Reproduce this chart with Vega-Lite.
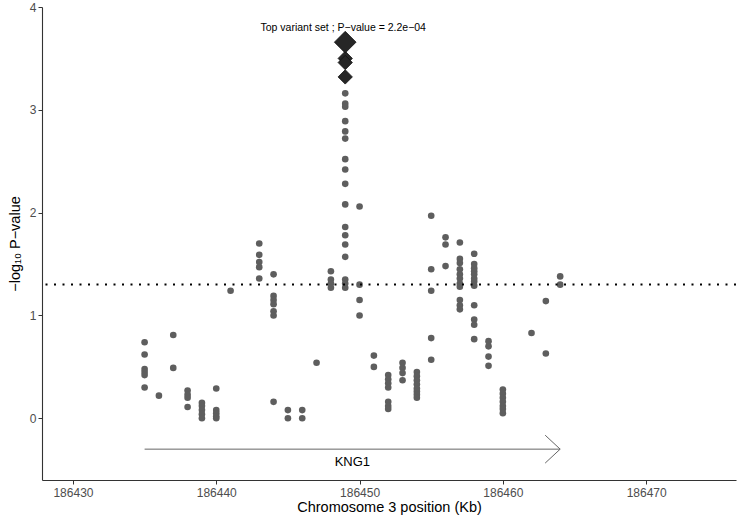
{
  "$schema": "https://vega.github.io/schema/vega-lite/v6.json",
  "width": 694,
  "height": 473,
  "autosize": {"type": "none"},
  "padding": {"left": 42, "top": 7, "right": 7, "bottom": 40},
  "background": "white",
  "config": {
    "view": {"stroke": null},
    "font": "Liberation Sans",
    "axis": {"grid": false, "domainColor": "#333333", "domainWidth": 1.1, "tickColor": "#333333", "tickSize": 4, "labelFontSize": 12, "labelColor": "#4d4d4d", "titleFontSize": 14.5, "titleFontWeight": "normal", "titleColor": "#000000", "labelFont": "Liberation Sans", "titleFont": "Liberation Sans"}
  },
  "datasets": {
    "snps": [
      {"pos": 186435, "logp": 0.74}, {"pos": 186435, "logp": 0.62}, {"pos": 186435, "logp": 0.48}, {"pos": 186435, "logp": 0.45}, {"pos": 186435, "logp": 0.42}, {"pos": 186435, "logp": 0.30},
      {"pos": 186436, "logp": 0.22},
      {"pos": 186437, "logp": 0.81}, {"pos": 186437, "logp": 0.49},
      {"pos": 186438, "logp": 0.27}, {"pos": 186438, "logp": 0.23}, {"pos": 186438, "logp": 0.20}, {"pos": 186438, "logp": 0.11},
      {"pos": 186439, "logp": 0.15}, {"pos": 186439, "logp": 0.12}, {"pos": 186439, "logp": 0.08}, {"pos": 186439, "logp": 0.04}, {"pos": 186439, "logp": 0.0},
      {"pos": 186440, "logp": 0.29}, {"pos": 186440, "logp": 0.08}, {"pos": 186440, "logp": 0.05}, {"pos": 186440, "logp": 0.02}, {"pos": 186440, "logp": 0.0},
      {"pos": 186441, "logp": 1.24},
      {"pos": 186443, "logp": 1.70}, {"pos": 186443, "logp": 1.59}, {"pos": 186443, "logp": 1.52}, {"pos": 186443, "logp": 1.47}, {"pos": 186443, "logp": 1.36},
      {"pos": 186444, "logp": 1.40}, {"pos": 186444, "logp": 1.19}, {"pos": 186444, "logp": 1.15}, {"pos": 186444, "logp": 1.11}, {"pos": 186444, "logp": 1.04}, {"pos": 186444, "logp": 1.00}, {"pos": 186444, "logp": 0.16},
      {"pos": 186445, "logp": 0.08}, {"pos": 186445, "logp": 0.0},
      {"pos": 186446, "logp": 0.08}, {"pos": 186446, "logp": 0.0},
      {"pos": 186447, "logp": 0.54},
      {"pos": 186448, "logp": 1.43}, {"pos": 186448, "logp": 1.35}, {"pos": 186448, "logp": 1.31}, {"pos": 186448, "logp": 1.27},
      {"pos": 186449, "logp": 3.16}, {"pos": 186449, "logp": 3.06}, {"pos": 186449, "logp": 3.03}, {"pos": 186449, "logp": 2.89}, {"pos": 186449, "logp": 2.79}, {"pos": 186449, "logp": 2.72}, {"pos": 186449, "logp": 2.52}, {"pos": 186449, "logp": 2.42}, {"pos": 186449, "logp": 2.28}, {"pos": 186449, "logp": 2.08}, {"pos": 186449, "logp": 1.86}, {"pos": 186449, "logp": 1.78}, {"pos": 186449, "logp": 1.69}, {"pos": 186449, "logp": 1.57}, {"pos": 186449, "logp": 1.35}, {"pos": 186449, "logp": 1.31}, {"pos": 186449, "logp": 1.27},
      {"pos": 186450, "logp": 2.06}, {"pos": 186450, "logp": 1.30}, {"pos": 186450, "logp": 1.15}, {"pos": 186450, "logp": 1.00},
      {"pos": 186451, "logp": 0.61}, {"pos": 186451, "logp": 0.50},
      {"pos": 186452, "logp": 0.42}, {"pos": 186452, "logp": 0.38}, {"pos": 186452, "logp": 0.34}, {"pos": 186452, "logp": 0.30}, {"pos": 186452, "logp": 0.16}, {"pos": 186452, "logp": 0.12}, {"pos": 186452, "logp": 0.09},
      {"pos": 186453, "logp": 0.54}, {"pos": 186453, "logp": 0.49}, {"pos": 186453, "logp": 0.44}, {"pos": 186453, "logp": 0.37},
      {"pos": 186454, "logp": 0.45}, {"pos": 186454, "logp": 0.41}, {"pos": 186454, "logp": 0.37}, {"pos": 186454, "logp": 0.33}, {"pos": 186454, "logp": 0.29}, {"pos": 186454, "logp": 0.26}, {"pos": 186454, "logp": 0.23}, {"pos": 186454, "logp": 0.20},
      {"pos": 186455, "logp": 1.97}, {"pos": 186455, "logp": 1.45}, {"pos": 186455, "logp": 1.24}, {"pos": 186455, "logp": 0.78}, {"pos": 186455, "logp": 0.57},
      {"pos": 186456, "logp": 1.76}, {"pos": 186456, "logp": 1.69}, {"pos": 186456, "logp": 1.48},
      {"pos": 186457, "logp": 1.71}, {"pos": 186457, "logp": 1.55}, {"pos": 186457, "logp": 1.51}, {"pos": 186457, "logp": 1.45}, {"pos": 186457, "logp": 1.40}, {"pos": 186457, "logp": 1.36}, {"pos": 186457, "logp": 1.31}, {"pos": 186457, "logp": 1.28}, {"pos": 186457, "logp": 1.15}, {"pos": 186457, "logp": 1.10}, {"pos": 186457, "logp": 1.06},
      {"pos": 186458, "logp": 1.60}, {"pos": 186458, "logp": 1.50}, {"pos": 186458, "logp": 1.46}, {"pos": 186458, "logp": 1.43}, {"pos": 186458, "logp": 1.40}, {"pos": 186458, "logp": 1.36}, {"pos": 186458, "logp": 1.33}, {"pos": 186458, "logp": 1.29}, {"pos": 186458, "logp": 1.10}, {"pos": 186458, "logp": 0.96}, {"pos": 186458, "logp": 0.91}, {"pos": 186458, "logp": 0.77},
      {"pos": 186459, "logp": 0.75}, {"pos": 186459, "logp": 0.70}, {"pos": 186459, "logp": 0.60}, {"pos": 186459, "logp": 0.51},
      {"pos": 186460, "logp": 0.28}, {"pos": 186460, "logp": 0.24}, {"pos": 186460, "logp": 0.20}, {"pos": 186460, "logp": 0.16}, {"pos": 186460, "logp": 0.12}, {"pos": 186460, "logp": 0.09}, {"pos": 186460, "logp": 0.05},
      {"pos": 186462, "logp": 0.83},
      {"pos": 186463, "logp": 1.14}, {"pos": 186463, "logp": 0.63},
      {"pos": 186464, "logp": 1.38}, {"pos": 186464, "logp": 1.30}
    ],
    "varset": [
      {"pos": 186449, "logp": 3.50, "role": "member"},
      {"pos": 186449, "logp": 3.46, "role": "member"},
      {"pos": 186449, "logp": 3.32, "role": "member"},
      {"pos": 186449, "logp": 3.658, "role": "top", "label": "Top variant set ; P\u2212value = 2.2e\u221204"}
    ],
    "gene": [
      {"gene": "KNG1", "start": 186435, "end": 186464, "track": -0.3, "mid": 186449.5}
    ],
    "threshold": [{"p": 1.30103}]
  },
  "layer": [
    {
      "data": {"name": "snps"},
      "mark": {"type": "point", "shape": "circle", "filled": true, "size": 44, "color": "#5e5e5e", "opacity": 1},
      "encoding": {
        "x": {"field": "pos", "type": "quantitative", "scale": {"domain": [186427.84, 186476.27], "nice": false, "zero": false}, "axis": {"values": [186430, 186440, 186450, 186460, 186470], "format": "d", "title": "Chromosome 3 position (Kb)", "labelPadding": 3, "titlePadding": 2}},
        "y": {"field": "logp", "type": "quantitative", "scale": {"domain": [-0.6, 4.0], "nice": false, "zero": false}, "axis": {"values": [0, 1, 2, 3, 4], "format": "d", "title": "\u2212log\u2081\u2080 P\u2212value", "labelPadding": 2, "titlePadding": 7}}
      }
    },
    {
      "data": {"name": "varset"},
      "transform": [{"filter": "datum.role === 'member'"}],
      "mark": {"type": "point", "shape": "diamond", "filled": true, "size": 205, "color": "#262626", "stroke": "#111111", "strokeWidth": 0.8, "opacity": 1},
      "encoding": {"x": {"field": "pos", "type": "quantitative"}, "y": {"field": "logp", "type": "quantitative"}}
    },
    {
      "data": {"name": "varset"},
      "transform": [{"filter": "datum.role === 'top'"}],
      "mark": {"type": "point", "shape": "diamond", "filled": true, "size": 470, "color": "#262626", "stroke": "#111111", "strokeWidth": 0.8, "opacity": 1},
      "encoding": {"x": {"field": "pos", "type": "quantitative"}, "y": {"field": "logp", "type": "quantitative"}}
    },
    {
      "data": {"name": "varset"},
      "transform": [{"filter": "datum.role === 'top'"}],
      "mark": {"type": "text", "fontSize": 10.5, "color": "#000000", "dy": -14, "dx": -2, "baseline": "middle", "align": "center"},
      "encoding": {"x": {"field": "pos", "type": "quantitative"}, "y": {"field": "logp", "type": "quantitative"}, "text": {"field": "label"}}
    },
    {
      "data": {"name": "gene"},
      "mark": {"type": "rule", "color": "#666666", "strokeWidth": 1},
      "encoding": {"x": {"field": "start", "type": "quantitative"}, "x2": {"field": "end"}, "y": {"field": "track", "type": "quantitative"}}
    },
    {
      "data": {"name": "gene"},
      "mark": {"type": "point", "shape": "M-1,-0.93L0,0L-1,0.93", "filled": false, "size": 900, "stroke": "#666666", "strokeWidth": 1, "opacity": 1},
      "encoding": {"x": {"field": "end", "type": "quantitative"}, "y": {"field": "track", "type": "quantitative"}}
    },
    {
      "data": {"name": "gene"},
      "mark": {"type": "text", "fontSize": 13, "color": "#000000", "dy": 13, "baseline": "middle", "align": "center"},
      "encoding": {"x": {"field": "mid", "type": "quantitative"}, "y": {"field": "track", "type": "quantitative"}, "text": {"field": "gene"}}
    },
    {
      "data": {"name": "threshold"},
      "mark": {"type": "rule", "color": "#000000", "strokeWidth": 2, "strokeDash": [2, 6.5]},
      "encoding": {"y": {"field": "p", "type": "quantitative"}}
    }
  ]
}
